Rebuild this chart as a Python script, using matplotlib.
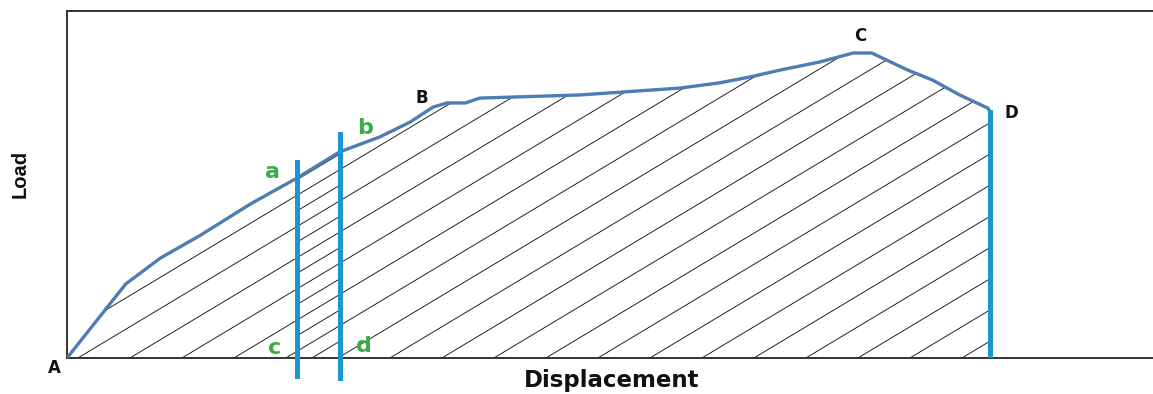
import numpy as np
import matplotlib
matplotlib.use("Agg")
import matplotlib.pyplot as plt
from matplotlib.patches import Polygon

# Load-displacement curve (arbitrary units)
displacement = [0.0, 5.4, 8.6, 12.3, 16.9, 21.2, 25.1, 28.8, 31.6, 33.7, 35.0,
                36.7, 38.0, 47.2, 56.5, 60.1, 62.9, 65.7, 69.3, 72.4, 74.1,
                77.4, 79.7, 82.2, 84.8, 85.0]
load = [0.0, 21.3, 28.8, 35.4, 44.4, 51.9, 59.4, 63.7, 68.0, 72.3, 73.5,
        73.5, 74.9, 75.8, 77.8, 79.3, 81.0, 83.0, 85.3, 87.9, 87.9,
        83.0, 80.1, 75.8, 72.0, 70.9]

# Strip boundaries a-c and b-d, and end point D
strip_x = [21.2, 25.1]
end_x = 85.0

# Point labels: (text, x, y)
point_labels = [("A", -1.2, -3.0), ("B", 32.7, 75.0), ("C", 73.0, 92.8), ("D", 87.0, 70.6)]
strip_labels = [("a", 18.9, 53.6), ("b", 27.4, 66.3), ("c", 19.1, 2.9), ("d", 27.3, 3.5)]

W, H = 1153, 394
fig = plt.figure(figsize=(W / 100, H / 100), dpi=100)
ax = fig.add_axes([67 / W, (H - 358) / H, 1 - 67 / W, (358 - 11) / H])
ax.set_xlim(0, 100)
ax.set_ylim(0, 100)
ax.set_xticks([])
ax.set_yticks([])
for side in ("left", "top", "bottom"):
    ax.spines[side].set_color("#333333")
    ax.spines[side].set_linewidth(1.4)
ax.spines["right"].set_visible(False)

x = np.array(displacement)
y = np.array(load)

# Region under the curve used to clip the hatching
region = Polygon(np.column_stack([np.r_[x, end_x, 0], np.r_[y, 0, 0]]),
                 closed=True, facecolor="none", edgecolor="none")
ax.add_patch(region)

# Hatch geometry: lines rising at ~31 degrees on screen
px_x = ax.get_position().width * W / 100
px_y = ax.get_position().height * H / 100
slope = 0.6 * px_x / px_y
step = 52 / px_x
xs = np.array([-5.0, 105.0])
for x0 in np.arange(1.0 - 60 * step, 100, step):
    ln, = ax.plot(xs, slope * (xs - x0), color="#222222", lw=0.7, zorder=2)
    ln.set_clip_path(region)

# Denser hatching inside the a-b strip
xi = np.linspace(strip_x[0], strip_x[1], 20)
yi = np.interp(xi, x, y)
strip = Polygon(np.column_stack([np.r_[xi, strip_x[1], strip_x[0]], np.r_[yi, 0, 0]]),
                closed=True, facecolor="none", edgecolor="none")
ax.add_patch(strip)
for x0 in np.arange(1.0 - 60 * step + step / 2, 100, step):
    ln, = ax.plot(xs, slope * (xs - x0), color="#222222", lw=0.7, zorder=2)
    ln.set_clip_path(strip)

# The curve
ax.plot(x, y, color="#4d7db3", lw=2.4, solid_capstyle="round", zorder=4)

# Vertical strip lines and the end line at D
blue = "#1b96d3"
ya = np.interp(strip_x, x, y)
ax.plot([strip_x[0]] * 2, [-5.2, ya[0] + 4.6], color=blue, lw=3.6, clip_on=False, zorder=5)
ax.plot([strip_x[1]] * 2, [-5.8, ya[1] + 5.2], color=blue, lw=3.6, clip_on=False, zorder=5)
ax.plot([end_x, end_x], [0, y[-1]], color=blue, lw=3.6, zorder=5)

bold = dict(fontweight="bold", family="DejaVu Sans")
for t, tx, ty in point_labels:
    ax.text(tx, ty, t, fontsize=12, ha="center", va="center", color="#111111", **bold)
for t, tx, ty in strip_labels:
    ax.text(tx, ty, t, fontsize=16, ha="center", va="center", color="#3cab48", **bold)

fig.text(612 / W, 1 - 381 / H, "Displacement", fontsize=16.5, ha="center",
         va="center", color="#111111", **bold)
fig.text(20 / W, 1 - 174 / H, "Load", fontsize=14.5, fontweight="bold",
         family=["Liberation Sans Narrow", "Liberation Sans"], rotation=90,
         ha="center", va="center", color="#111111")

fig.savefig("out.png", dpi=100)
